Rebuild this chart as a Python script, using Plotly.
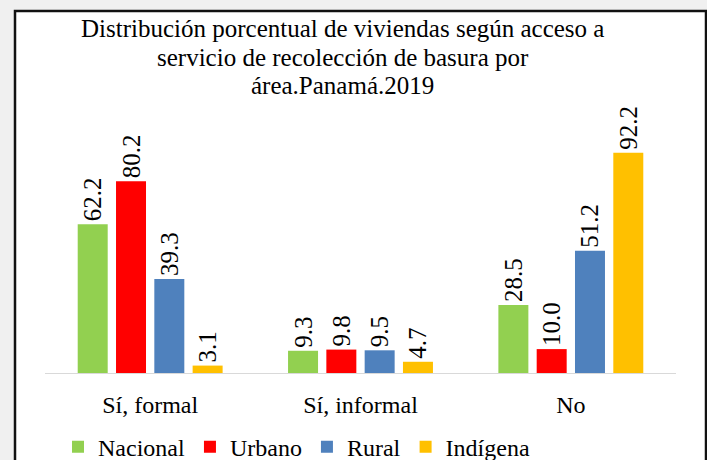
import plotly.graph_objects as go

categories = ["Sí, formal", "Sí, informal", "No"]
series_names = ["Nacional", "Urbano", "Rural", "Indígena"]
nacional = [62.2, 9.3, 28.5]
urbano = [80.2, 9.8, 10.0]
rural = [39.3, 9.5, 51.2]
indigena = [3.1, 4.7, 92.2]
colors = ["#92D050", "#FF0000", "#4F81BD", "#FFC000"]
title_lines = ["Distribución porcentual de viviendas según acceso a",
               "servicio de recolección de basura por",
               "área.Panamá.2019"]

FONT = "Liberation Serif"
W, H = 707, 460
L, R, T, B = 45, 31, 133.5, 86.5
PW, PH = W - L - R, H - T - B

def px_x(p):
    return (p - L) / PW

def px_y(p):
    return (H - B - p) / PH

label_font = dict(family=FONT, size=25, color="black")

fig = go.Figure()
for name, vals, col in zip(series_names, [nacional, urbano, rural, indigena], colors):
    fig.add_trace(go.Bar(
        name=name, x=categories, y=vals,
        marker=dict(color=col, line=dict(width=0)),
        text=[f"{v:.1f}" for v in vals],
        textposition="outside", textangle=-90,
        textfont=label_font, outsidetextfont=label_font,
        constraintext="none", cliponaxis=False,
    ))

# chart frame
fig.add_shape(type="rect", xref="paper", yref="paper",
              x0=px_x(15), x1=px_x(706), y0=px_y(10), y1=px_y(480),
              fillcolor="white", line=dict(color="#111111", width=2.5), layer="below")

centers = [28, 57, 85]
for line, c in zip(title_lines, centers):
    fig.add_annotation(text=line, xref="paper", yref="paper", x=px_x(342.5), y=px_y(c),
                       xanchor="center", yanchor="middle", showarrow=False,
                       font=dict(family=FONT, size=25, color="black"))

fig.update_layout(
    width=W, height=H,
    margin=dict(l=L, r=R, t=T, b=B, pad=0, autoexpand=False),
    paper_bgcolor="#f0f0f0", plot_bgcolor="rgba(0,0,0,0)",
    barmode="group", bargap=0.2715, bargroupgap=0.217,
    showlegend=True,
    legend=dict(orientation="h", x=px_x(58), xanchor="left", y=px_y(448), yanchor="middle",
                font=dict(family=FONT, size=24, color="black"), bgcolor="rgba(0,0,0,0)",
                traceorder="normal"),
    font=dict(family=FONT, color="black"),
)
fig.update_xaxes(showline=True, linecolor="#d9d9d9", linewidth=1, ticks="",
                 tickfont=dict(family=FONT, size=24, color="black"), ticklabelstandoff=10,
                 showgrid=False, zeroline=False, automargin=False)
fig.update_yaxes(range=[0, 100], visible=False, showgrid=False, zeroline=False)

fig.write_html("out.html")
